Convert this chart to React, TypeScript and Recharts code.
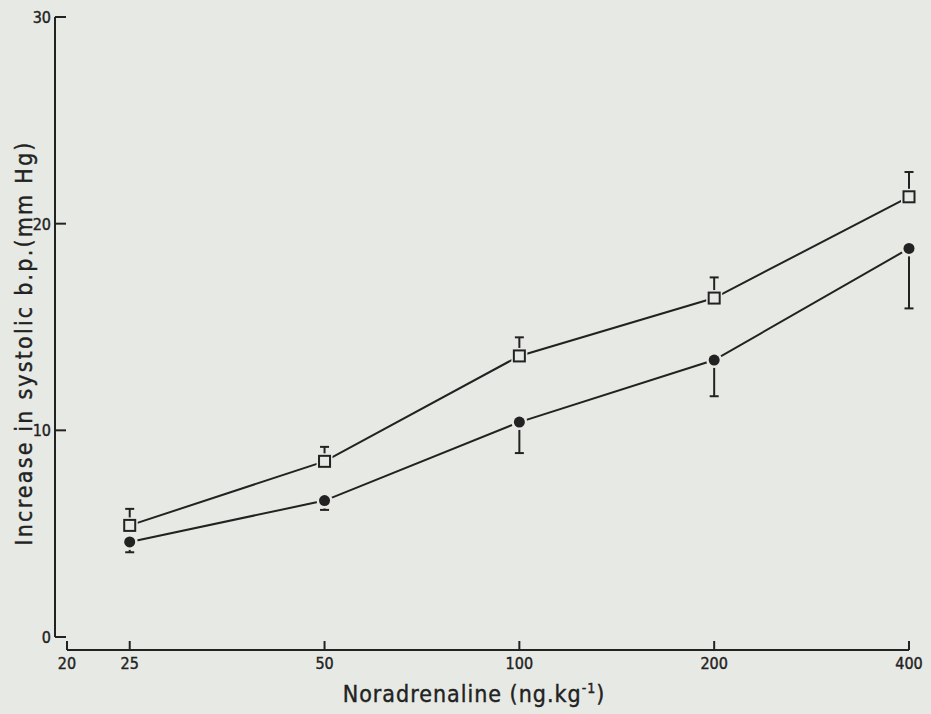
import { ErrorBar, Line, LineChart, ReferenceLine, XAxis, YAxis } from "recharts";

// Noradrenaline dose (ng/kg) and mean rise in systolic pressure (mm Hg) ± s.e.m.
const doses = [25, 50, 100, 200, 400];
const openMean = [5.4, 8.5, 13.6, 16.4, 21.3];
const openSem = [0.8, 0.7, 0.9, 1.0, 1.2];
const filledMean = [4.6, 6.6, 10.4, 13.4, 18.8];
const filledSem = [0.5, 0.45, 1.5, 1.75, 2.9];

const xTicks = [20, 25, 50, 100, 200, 400];
const yTicks = [0, 10, 20, 30];

const INK = "#222";
const PAPER = "#e7eae4";
const FONT = "'DejaVu Sans Condensed', 'DejaVu Sans', sans-serif";

// the two axes are drawn detached from each other
const GAP_X = 12;
const GAP_Y = 13;

// open squares only carry an upper bar, filled circles only a lower one
const rows = doses.map((dose, i) => ({
  dose,
  open: openMean[i],
  openErr: [0, openSem[i]],
  filled: filledMean[i],
  filledErr: [filledSem[i], 0],
}));

function YTick({ x, y, payload }: any) {
  return (
    <g>
      <line x1={x} y1={y} x2={x + 11} y2={y} stroke={INK} strokeWidth={2} />
      <text
        x={x - 4}
        y={y}
        dy={6}
        textAnchor="end"
        fontSize={16}
        fill={INK}
        stroke={INK}
        strokeWidth={0.4}
        fontFamily={FONT}
      >
        {payload.value}
      </text>
    </g>
  );
}

function XTick({ x, y, payload }: any) {
  return (
    <g>
      <line x1={x} y1={y} x2={x} y2={y - 9} stroke={INK} strokeWidth={2} />
      <text
        x={x}
        y={y + 19}
        textAnchor="middle"
        fontSize={16}
        fill={INK}
        stroke={INK}
        strokeWidth={0.4}
        fontFamily={FONT}
      >
        {payload.value}
      </text>
    </g>
  );
}

function XTitle({ viewBox }: any) {
  const cx = viewBox.x + viewBox.width / 2 - 8;
  return (
    <text
      x={cx}
      y={viewBox.y + 52}
      textAnchor="middle"
      fontSize={23}
      letterSpacing={1}
      fill={INK}
      stroke={INK}
      strokeWidth={0.4}
      fontFamily={FONT}
    >
      Noradrenaline (ng.kg
      <tspan dy={-9} fontSize={14}>-1</tspan>
      <tspan dy={9}>)</tspan>
    </text>
  );
}

function YTitle({ viewBox }: any) {
  const tx = viewBox.x + 32;
  const ty = viewBox.y + 326;
  return (
    <text
      x={tx}
      y={ty}
      transform={`rotate(-90, ${tx}, ${ty})`}
      textAnchor="middle"
      fontSize={23}
      letterSpacing={2.2}
      fill={INK}
      stroke={INK}
      strokeWidth={0.4}
      fontFamily={FONT}
    >
      Increase in systolic b.p.(mm Hg)
    </text>
  );
}

// background-coloured patch that opens a small gap where the line meets a marker
function Halo({ cx, cy, square }: any) {
  if (cx == null || cy == null) return <g />;
  return square ? (
    <rect x={cx - 8} y={cy - 8} width={16} height={16} fill={PAPER} />
  ) : (
    <circle cx={cx} cy={cy} r={8} fill={PAPER} />
  );
}

function OpenSquare({ cx, cy }: any) {
  if (cx == null || cy == null) return <g />;
  return <rect x={cx - 5.5} y={cy - 5.5} width={11} height={11} fill={PAPER} stroke={INK} strokeWidth={2} />;
}

function FilledDot({ cx, cy }: any) {
  if (cx == null || cy == null) return <g />;
  return <circle cx={cx} cy={cy} r={5.5} fill={INK} />;
}

export default function App() {
  return (
    <div style={{ position: "fixed", left: 0, top: 0, width: 931, height: 714, background: PAPER }}>
      <LineChart width={931} height={714} data={rows} margin={{ top: 17, right: 22, bottom: 0, left: 0 }}>
        <XAxis
          dataKey="dose"
          type="number"
          scale="log"
          domain={[20, 400]}
          ticks={xTicks}
          padding={{ left: GAP_X, right: 0 }}
          height={64}
          axisLine={false}
          tickLine={false}
          tickSize={0}
          tickMargin={0}
          tick={<XTick />}
          label={{ content: (p: any) => <XTitle {...p} /> }}
        />
        <YAxis
          type="number"
          domain={[0, 30]}
          ticks={yTicks}
          padding={{ top: 0, bottom: GAP_Y }}
          width={55}
          axisLine={false}
          tickLine={false}
          tickSize={0}
          tickMargin={0}
          tick={<YTick />}
          label={{ content: (p: any) => <YTitle {...p} /> }}
        />

        {/* y axis line, pulled left of the x range */}
        <ReferenceLine
          segment={[
            { x: 20, y: 0 },
            { x: 20, y: 30 },
          ]}
          shape={(p: any) => (
            <line x1={p.x1 - GAP_X} y1={p.y1} x2={p.x2 - GAP_X} y2={p.y2} stroke={INK} strokeWidth={2} />
          )}
        />
        {/* x axis line, dropped below zero */}
        <ReferenceLine
          segment={[
            { x: 20, y: 0 },
            { x: 400, y: 0 },
          ]}
          shape={(p: any) => (
            <line x1={p.x1} y1={p.y1 + GAP_Y} x2={p.x2} y2={p.y2 + GAP_Y} stroke={INK} strokeWidth={2} />
          )}
        />

        <Line dataKey="open" stroke={INK} strokeWidth={2} dot={false} activeDot={false} isAnimationActive={false} />
        <Line dataKey="filled" stroke={INK} strokeWidth={2} dot={false} activeDot={false} isAnimationActive={false} />

        <Line
          dataKey="open"
          stroke="none"
          dot={(p: any) => <Halo key={`ho${p.index}`} {...p} square />}
          activeDot={false}
          isAnimationActive={false}
        />
        <Line
          dataKey="filled"
          stroke="none"
          dot={(p: any) => <Halo key={`hf${p.index}`} {...p} />}
          activeDot={false}
          isAnimationActive={false}
        />

        <Line dataKey="open" stroke="none" dot={false} activeDot={false} isAnimationActive={false}>
          <ErrorBar dataKey="openErr" direction="y" width={4.5} stroke={INK} strokeWidth={2} />
        </Line>
        <Line dataKey="filled" stroke="none" dot={false} activeDot={false} isAnimationActive={false}>
          <ErrorBar dataKey="filledErr" direction="y" width={4.5} stroke={INK} strokeWidth={2} />
        </Line>

        <Line
          dataKey="open"
          stroke="none"
          dot={(p: any) => <OpenSquare key={`so${p.index}`} {...p} />}
          activeDot={false}
          isAnimationActive={false}
        />
        <Line
          dataKey="filled"
          stroke="none"
          dot={(p: any) => <FilledDot key={`sf${p.index}`} {...p} />}
          activeDot={false}
          isAnimationActive={false}
        />
      </LineChart>
    </div>
  );
}
